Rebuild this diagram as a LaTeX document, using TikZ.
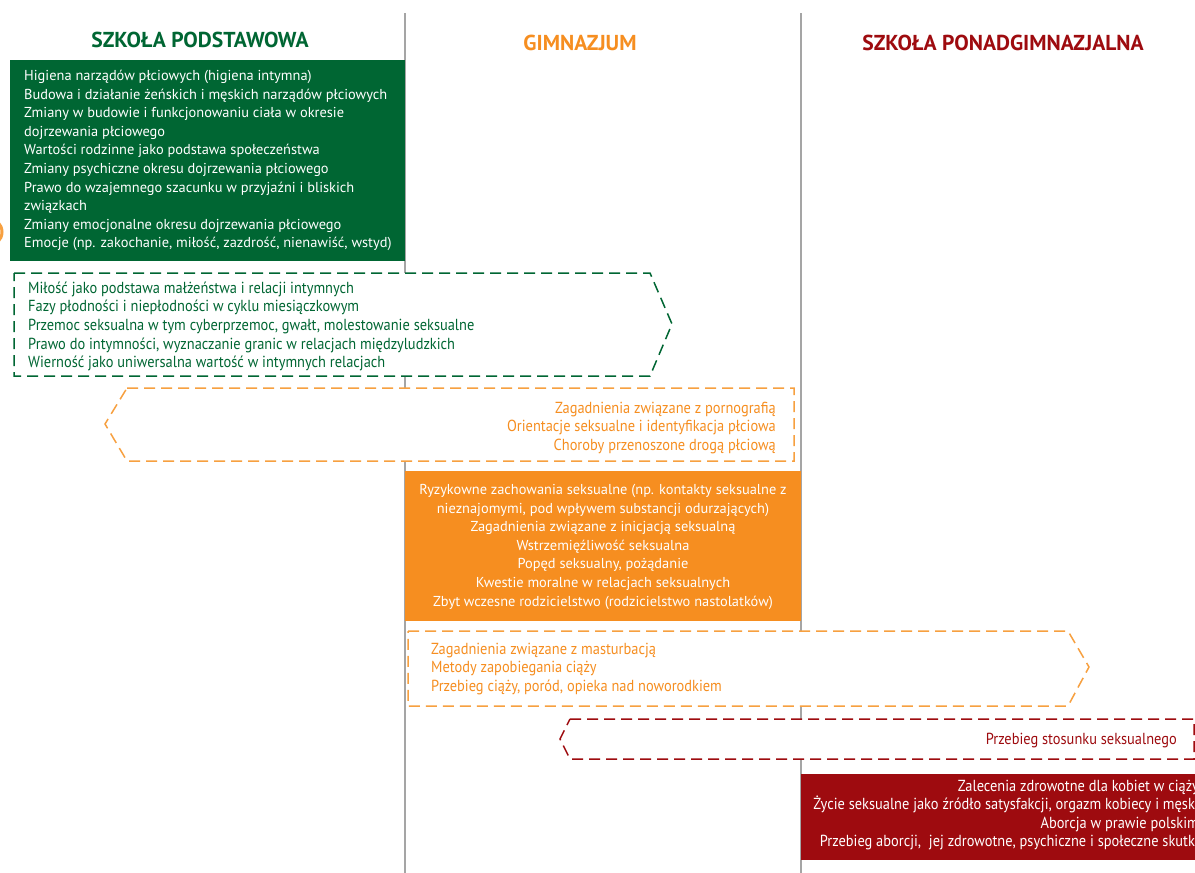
\documentclass[tikz,border=0pt]{standalone}
\usepackage{fontspec}
\setmainfont{PT Sans}
\newfontfamily\condfont[FakeStretch=0.9]{PT Sans}
\definecolor{sgreen}{RGB}{0,102,51}
\definecolor{sorange}{RGB}{246,142,32}
\definecolor{lorange}{RGB}{247,160,64}
\definecolor{sred}{RGB}{158,11,15}
\definecolor{sgray}{RGB}{165,165,165}
\tikzset{
  gridline/.style={draw=sgray, line width=1.6pt},
  dashbox/.style={line width=1.5pt, dash pattern=on 11pt off 6pt, fill=white},
  boxtext/.style={inner sep=0pt, font=\fontsize{14.4}{18.6}\selectfont},
  condtext/.style={inner sep=0pt, font=\condfont\fontsize{16}{18.6}\selectfont},
  header/.style={inner sep=0pt, font=\bfseries\fontsize{21.6}{24}\selectfont}
}
\begin{document}
\begin{tikzpicture}[x=1pt,y=-1pt]
\clip (0,0) rectangle (1195,873);
\fill[white] (0,0) rectangle (1195,873);
% column separators
\coordinate (l1t) at (405,13); \coordinate (l1b) at (405,873);
\coordinate (l2t) at (801,13); \coordinate (l2b) at (801,873);
\draw[gridline] (l1t) -- (l1b);
\draw[gridline] (l2t) -- (l2b);
% headers
\node[header, text=sgreen] (h1) at (200,40) {SZKOŁA PODSTAWOWA};
\node[header, text=sorange] (h2) at (580,43) {GIMNAZJUM};
\node[header, text=sred] (h3) at (1003,43) {SZKOŁA PONADGIMNAZJALNA};
% small orange fragment at left edge
\draw[lorange, line width=3pt] (-12,232) circle (14);
% green box
\fill[sgreen] (10,60) rectangle (405,261);
\node[boxtext, text=white, align=left, anchor=north west] (g1) at (24,70) {Higiena narządów płciowych (higiena intymna)\\
Budowa i działanie żeńskich i męskich narządów płciowych\\
Zmiany w budowie i funkcjonowaniu ciała w okresie\\
dojrzewania płciowego\\
Wartości rodzinne jako podstawa społeczeństwa\\
Zmiany psychiczne okresu dojrzewania płciowego\\
Prawo do wzajemnego szacunku w przyjaźni i bliskich\\
związkach\\
Zmiany emocjonalne okresu dojrzewania płciowego\\
Emocje (np. zakochanie, miłość, zazdrość, nienawiść, wstyd)};
% green dashed arrow
\draw[dashbox, draw=sgreen] (14,273) -- (650,273) -- (672,324) -- (650,376) -- (14,376) -- cycle;
\node[condtext, text=sgreen, align=left, anchor=north west] (g2) at (28,281.5) {Miłość jako podstawa małżeństwa i relacji intymnych\\
Fazy płodności i niepłodności w cyklu miesiączkowym\\
Przemoc seksualna w tym cyberprzemoc, gwałt, molestowanie seksualne\\
Prawo do intymności, wyznaczanie granic w relacjach międzyludzkich\\
Wierność jako uniwersalna wartość w intymnych relacjach};
% orange dashed arrow (left)
\draw[dashbox, draw=lorange] (127,388) -- (794,388) -- (794,461) -- (127,461) -- (105,424) -- cycle;
\node[condtext, text=sorange, align=right, anchor=north east] (o1) at (776,401.5) {Zagadnienia związane z pornografią\\
Orientacje seksualne i identyfikacja płciowa\\
Choroby przenoszone drogą płciową};
% orange box
\fill[sorange] (405,471) rectangle (801,621);
\node[boxtext, text=white, align=center, anchor=north] (o2) at (603,484) {Ryzykowne zachowania seksualne (np. kontakty seksualne z\\
nieznajomymi, pod wpływem substancji odurzających)\\
Zagadnienia związane z inicjacją seksualną\\
Wstrzemięźliwość seksualna\\
Popęd seksualny, pożądanie\\
Kwestie moralne w relacjach seksualnych\\
Zbyt wczesne rodzicielstwo (rodzicielstwo nastolatków)};
% orange dashed arrow (right)
\draw[dashbox, draw=lorange] (408,631) -- (1068,631) -- (1089,667) -- (1068,706) -- (408,706) -- cycle;
\node[condtext, text=sorange, align=left, anchor=north west] (o3) at (431,642.5) {Zagadnienia związane z masturbacją\\
Metody zapobiegania ciąży\\
Przebieg ciąży, poród, opieka nad noworodkiem};
% red dashed arrow (left)
\draw[dashbox, draw=sred] (570,719) -- (1194,719) -- (1194,759) -- (570,759) -- (560,739) -- cycle;
\node[condtext, text=sred, anchor=north east] (r1) at (1177,732.5) {Przebieg stosunku seksualnego};
% red box
\fill[sred] (801,774) rectangle (1220,860);
\node[condtext, text=white, align=right, anchor=north east] (r2) at (1199,779.5) {Zalecenia zdrowotne dla kobiet w ciąży\\
Życie seksualne jako źródło satysfakcji, orgazm kobiecy i męski\\
Aborcja w prawie polskim\\
Przebieg aborcji,~ jej zdrowotne, psychiczne i społeczne skutki};
\end{tikzpicture}
\end{document}
